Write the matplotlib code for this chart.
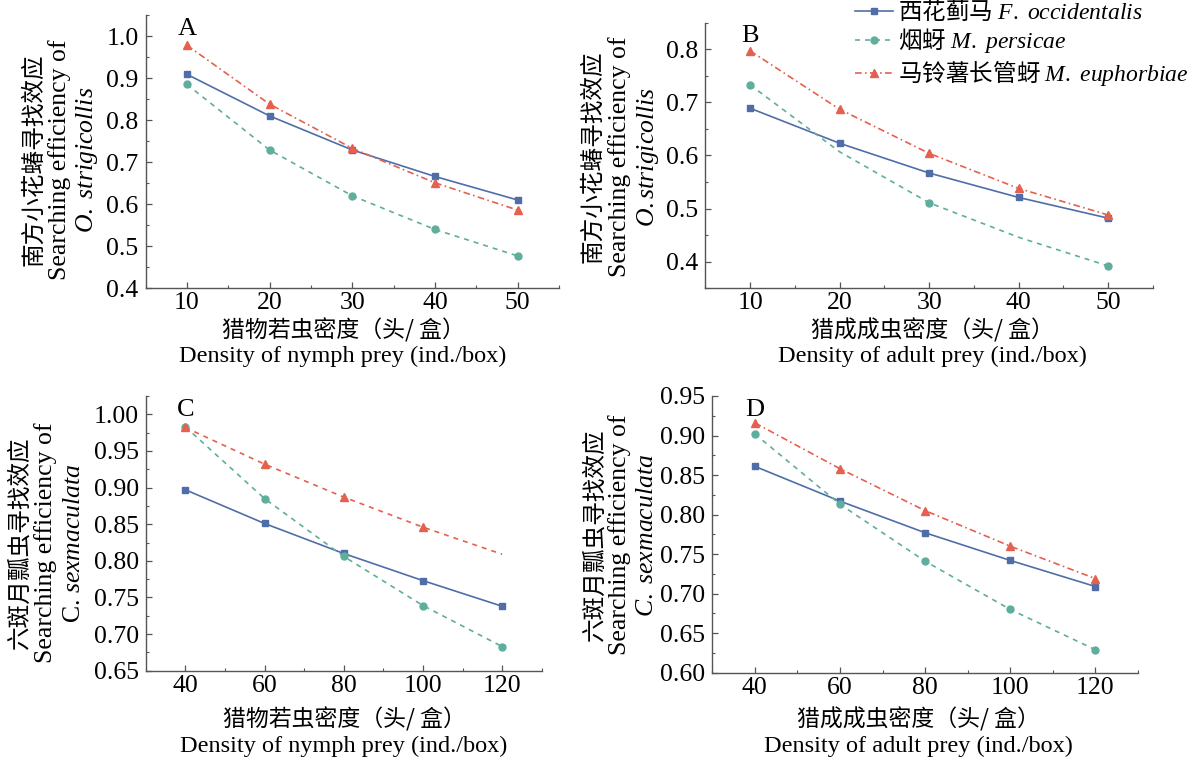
import matplotlib

matplotlib.use("Agg")
import matplotlib.pyplot as plt
from matplotlib.ticker import FormatStrFormatter, MultipleLocator

plt.rcParams["font.family"] = ["Liberation Serif", "Noto Sans CJK SC"]
plt.rcParams["mathtext.fontset"] = "custom"
plt.rcParams["mathtext.rm"] = "Liberation Serif"
plt.rcParams["mathtext.it"] = "Liberation Serif:italic"

W, H = 1195, 760
CJK = ["Noto Sans CJK SC", "Liberation Serif"]

BLUE = "#4f6ea8"
GREEN = "#5fae9c"
RED = "#e5604e"

# prey density (x) for the two predators
density_o = [10, 20, 30, 40, 50]
density_c = [40, 60, 80, 100, 120]

# A: O. strigicollis, nymph prey
a_occidentalis = [0.909, 0.810, 0.729, 0.666, 0.610]
a_persicae = [0.885, 0.729, 0.620, 0.540, 0.477]
a_euphorbiae = [0.978, 0.838, 0.733, 0.651, 0.586]

# B: O. strigicollis, adult prey (persicae curve has no markers at 20 and 40)
b_occidentalis = [0.689, 0.623, 0.567, 0.521, 0.482]
b_persicae = [0.733, 0.607, 0.511, 0.446, 0.392]
b_euphorbiae = [0.797, 0.687, 0.604, 0.538, 0.488]

# C: C. sexmaculata, nymph prey (euphorbiae curve has no marker at 120)
c_occidentalis = [0.897, 0.851, 0.810, 0.773, 0.738]
c_persicae = [0.983, 0.885, 0.806, 0.739, 0.683]
c_euphorbiae = [0.982, 0.932, 0.887, 0.846, 0.809]

# D: C. sexmaculata, adult prey
d_occidentalis = [0.861, 0.817, 0.777, 0.742, 0.709]
d_persicae = [0.902, 0.813, 0.741, 0.680, 0.629]
d_euphorbiae = [0.916, 0.858, 0.805, 0.760, 0.719]

legend_labels = [
    r"西花蓟马 $\mathit{F.\ occidentalis}$",
    r"烟蚜 $\mathit{M.\ persicae}$",
    r"马铃薯长管蚜 $\mathit{M.\ euphorbiae}$",
]


def add_axes(fig, left, top, right, bottom):
    return fig.add_axes([left / W, 1 - bottom / H, (right - left) / W, (bottom - top) / H])


def draw_panel(ax, x, blue, green, red, xlim, ylim, ystep, yfmt, letter,
               green_marks=None, red_marks=None, red_style=(0, (4, 2, 1, 2))):
    lines = []
    lines += ax.plot(x, blue, color=BLUE, lw=1.2, ls="-", marker="s", ms=5, label=legend_labels[0])
    lines += ax.plot(x, green, color=GREEN, lw=1.2, ls=(0, (3, 3)), marker="o", ms=5,
                     markevery=green_marks, label=legend_labels[1])
    lines += ax.plot(x, red, color=RED, lw=1.2, ls=red_style,
                     marker="^", ms=6, markevery=red_marks, label=legend_labels[2])
    ax.set_xlim(*xlim)
    ax.set_ylim(*ylim)
    ax.set_xticks(x)
    ax.xaxis.set_minor_locator(MultipleLocator((x[1] - x[0]) / 2))
    ax.yaxis.set_major_locator(MultipleLocator(ystep))
    ax.yaxis.set_minor_locator(MultipleLocator(ystep / 2))
    ax.yaxis.set_major_formatter(FormatStrFormatter(yfmt))
    for side in ("top", "right"):
        ax.spines[side].set_visible(False)
    for side in ("left", "bottom"):
        ax.spines[side].set_color("#555555")
        ax.spines[side].set_linewidth(1.0)
    ax.tick_params(which="both", direction="in", color="#555555", labelsize=18.5)
    ax.tick_params(which="major", length=4, width=0.9)
    ax.tick_params(which="minor", length=2.5, width=0.8)
    ax.tick_params(axis="x", pad=3)
    ax.tick_params(axis="y", pad=5)
    ax.text(0.1, 0.99, letter, transform=ax.transAxes, fontsize=19, ha="center", va="top")
    return lines


def ylabel(fig, xs, yc, cn, en, sp):
    fig.text(xs[0] / W, 1 - yc / H, cn, rotation=90, ha="center", va="center",
             family=CJK, fontsize=17)
    fig.text(xs[1] / W, 1 - yc / H, en, rotation=90, ha="center", va="center", fontsize=18.5)
    fig.text(xs[2] / W, 1 - yc / H, sp, rotation=90, ha="center", va="center", fontsize=18.5)


def xlabel(fig, xc, y1, y2, cn, en):
    fig.text(xc / W, 1 - y1 / H, cn, ha="center", va="center", family=CJK, fontsize=16.5)
    fig.text(xc / W, 1 - y2 / H, en, ha="center", va="center", fontsize=17.5)


fig = plt.figure(figsize=(W / 100, H / 100), dpi=100)

ax_a = add_axes(fig, 145.5, 15, 559, 288.3)
handles = draw_panel(ax_a, density_o, a_occidentalis, a_persicae, a_euphorbiae,
                     (5, 55), (0.4, 1.05), 0.1, "%.1f", "A")

ax_b = add_axes(fig, 705.3, 22.7, 1153, 288.3)
draw_panel(ax_b, density_o, b_occidentalis, b_persicae, b_euphorbiae,
           (5, 55), (0.35, 0.85), 0.1, "%.1f", "B", green_marks=[0, 2, 4])

ax_c = add_axes(fig, 145.7, 396, 541.7, 670.7)
draw_panel(ax_c, density_c, c_occidentalis, c_persicae, c_euphorbiae,
           (30, 130), (0.65, 1.025), 0.05, "%.2f", "C", red_marks=[0, 1, 2, 3],
           red_style=(0, (3, 3)))

ax_d = add_axes(fig, 712.3, 396, 1138, 672.7)
draw_panel(ax_d, density_c, d_occidentalis, d_persicae, d_euphorbiae,
           (30, 130), (0.60, 0.95), 0.05, "%.2f", "D")

ylabel(fig, (34, 60, 87), 160, "南方小花蝽寻找效应", "Searching efficiency of",
       r"$\mathit{O.\ strigicollis}$")
ylabel(fig, (593, 620, 648), 157, "南方小花蝽寻找效应", "Searching efficiency of",
       r"$\mathit{O.strigicollis}$")
ylabel(fig, (20, 46, 74), 543, "六斑月瓢虫寻找效应", "Searching efficiency of",
       r"C. $\mathit{sexmaculata}$")
ylabel(fig, (595, 620, 647), 535, "六斑月瓢虫寻找效应", "Searching efficiency of",
       r"$\mathit{C.\ sexmaculata}$")

xlabel(fig, 343, 330, 356, "猎物若虫密度（头/ 盒）", "Density of nymph prey (ind./box)")
xlabel(fig, 932, 330, 356, "猎成成虫密度（头/ 盒）", "Density of adult prey (ind./box)")
xlabel(fig, 344, 719, 746, "猎物若虫密度（头/ 盒）", "Density of nymph prey (ind./box)")
xlabel(fig, 918, 719, 746, "猎成成虫密度（头/ 盒）", "Density of adult prey (ind./box)")

fig.legend(handles=handles, loc="upper left", bbox_to_anchor=(855 / W, 1 + 2 / H),
           frameon=False, prop={"family": "Noto Sans CJK SC", "size": 17},
           handlelength=1.6, handletextpad=0.2, labelspacing=0.1, borderpad=0.0,
           borderaxespad=0.0)

fig.savefig("out.png", dpi=100)
